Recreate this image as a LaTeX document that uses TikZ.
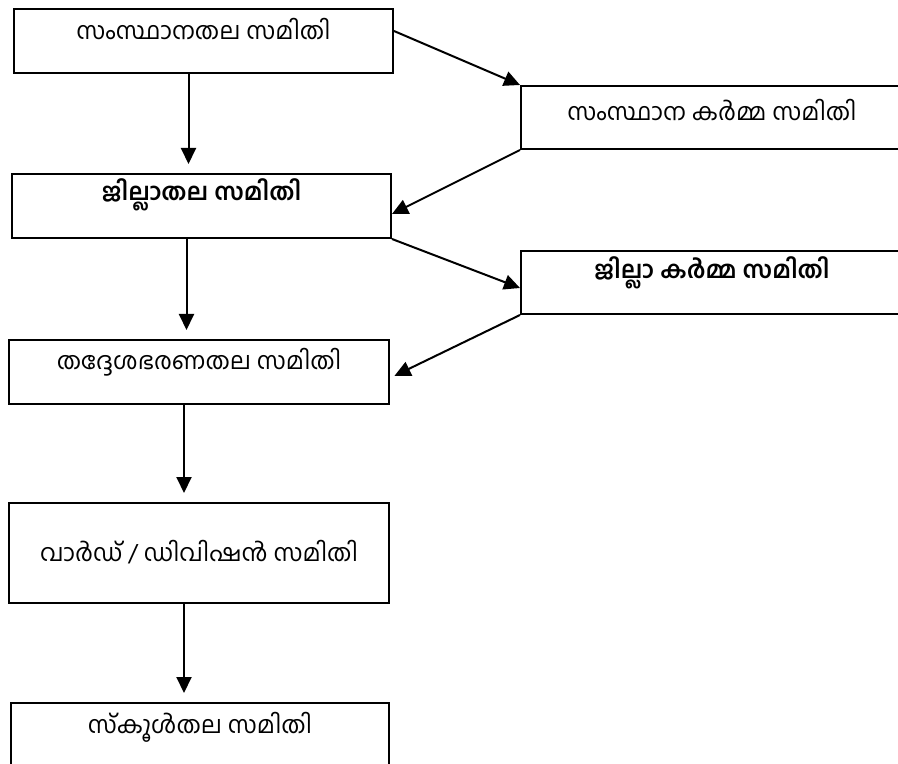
\documentclass[tikz,border=0pt]{standalone}
\usepackage{fontspec}
\usepackage{tikz}
\usetikzlibrary{arrows.meta}
\newfontfamily\mlfont[Script=Malayalam]{Hind Kochi}

\begin{document}
\begin{tikzpicture}
    [x=0.5pt, y=-0.5pt,
 block/.style ={rectangle, draw=black, line width=1pt, anchor=north west, inner ysep=0pt, minimum width=189.5pt, font=\mlfont\fontsize{12}{14}\selectfont},
 line/.style ={draw, line width=1pt, -{Triangle[length=8pt,width=7.5pt]}},
 down/.style ={line, shorten >=4.5pt}]
        \useasboundingbox (0,0) rectangle (898,764);
        \clip (0,0) rectangle (898,764);
        \node[block, text height=15.5pt, text depth=16.5pt] (sthana) at (13,8) {സംസ്ഥാനതല സമിതി};
        \node[block, minimum width=191pt, text height=17.5pt, text depth=14pt] (skarma) at (520,85) {സംസ്ഥാന കർമ്മ സമിതി};
        \node[block, text height=13.5pt, text depth=18.5pt] (jilla) at (11,173) {\bfseries ജില്ലാതല സമിതി};
        \node[block, minimum width=191pt, text height=14pt, text depth=17.5pt] (jkarma) at (520,250) {\bfseries ജില്ലാ കർമ്മ സമിതി};
        \node[block, minimum width=190pt, text height=14.5pt, text depth=17.5pt] (thaddesha) at (8,339) {തദ്ദേശഭരണതല സമിതി};
        \node[block, minimum width=190pt, text height=29pt, text depth=21pt] (ward) at (8,502) {വാർഡ് / ഡിവിഷൻ സമിതി};
        \node[block, minimum width=189pt, text height=15pt, text depth=25pt] (school) at (10,702) {സ്കൂൾതല സമിതി};
        % vertical chain
        \draw[down] ([xshift=-7.5pt]sthana.south) -- ([xshift=-7.5pt]sthana.south |- jilla.north);
        \draw[down] ([xshift=-7.5pt]jilla.south) -- ([xshift=-7.5pt]jilla.south |- thaddesha.north);
        \draw[down] ([xshift=-7.5pt]thaddesha.south) -- ([xshift=-7.5pt]thaddesha.south |- ward.north);
        \draw[down] ([xshift=-7.5pt]ward.south) -- ([xshift=-7.5pt]ward.south |- school.north);
        % side committees
        \draw[line] ([yshift=5pt]sthana.east) -- (skarma.north west);
        \draw[line] (skarma.south west) -- ([yshift=-4pt]jilla.east);
        \draw[line] (jilla.south east) -- ([yshift=-2.75pt]jkarma.west);
        \draw[line, shorten >=2.5pt] (jkarma.south west) -- ([yshift=-3pt]thaddesha.east);
    \end{tikzpicture}
\end{document}
